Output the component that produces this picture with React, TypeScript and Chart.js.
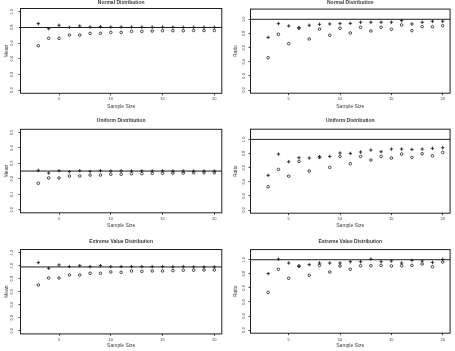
import React, { useEffect, useRef } from "react";
import { Chart, registerables } from "chart.js";

Chart.register(...registerables);

// ---- data ----
const sampleSizes = [3, 4, 5, 6, 7, 8, 9, 10, 11, 12, 13, 14, 15, 16, 17, 18, 19, 20];
const xTickValues = [5, 10, 15, 20];
const meanTicksWide = [0, 0.2, 0.4, 0.6, 0.8, 1.0];
const meanTicksUniform = [0, 0.1, 0.2, 0.3, 0.4, 0.5];
const meanTicksExtreme = [0, 0.2, 0.4, 0.6, 0.8, 1.0, 1.2];
const ratioTicks = [0, 0.2, 0.4, 0.6, 0.8, 1.0];

const normalMeanPlus = [0.847, 0.783, 0.826, 0.8, 0.817, 0.804, 0.808, 0.804, 0.804, 0.803, 0.803, 0.802, 0.802, 0.802, 0.801, 0.801, 0.801, 0.801];
const normalMeanCircle = [0.566, 0.66, 0.66, 0.702, 0.702, 0.723, 0.723, 0.736, 0.736, 0.749, 0.749, 0.753, 0.757, 0.757, 0.757, 0.76, 0.76, 0.76];
const normalRatioPlus = [0.745, 0.939, 0.906, 0.882, 0.915, 0.929, 0.934, 0.939, 0.943, 0.958, 0.958, 0.958, 0.958, 0.981, 0.934, 0.958, 0.972, 0.972];
const normalRatioCircle = [0.458, 0.788, 0.656, 0.873, 0.722, 0.863, 0.774, 0.873, 0.807, 0.887, 0.835, 0.887, 0.858, 0.92, 0.84, 0.896, 0.896, 0.91];

const uniformMeanPlus = [0.254, 0.237, 0.252, 0.246, 0.252, 0.248, 0.252, 0.25, 0.251, 0.25, 0.251, 0.25, 0.251, 0.25, 0.25, 0.25, 0.25, 0.25];
const uniformMeanCircle = [0.171, 0.205, 0.205, 0.218, 0.218, 0.224, 0.224, 0.229, 0.229, 0.233, 0.233, 0.235, 0.235, 0.237, 0.237, 0.239, 0.239, 0.239];
const uniformRatioPlus = [0.491, 0.792, 0.684, 0.741, 0.736, 0.755, 0.759, 0.807, 0.802, 0.821, 0.849, 0.825, 0.863, 0.863, 0.858, 0.863, 0.873, 0.882];
const uniformRatioCircle = [0.33, 0.575, 0.481, 0.689, 0.552, 0.745, 0.604, 0.759, 0.656, 0.759, 0.708, 0.759, 0.736, 0.792, 0.745, 0.797, 0.769, 0.816];

const extremeMeanPlus = [1.046, 0.959, 1.01, 0.985, 1.0, 0.985, 1.0, 0.985, 0.985, 0.985, 0.985, 0.985, 0.985, 0.98, 0.985, 0.98, 0.98, 0.98];
const extremeMeanCircle = [0.704, 0.811, 0.811, 0.857, 0.857, 0.883, 0.883, 0.903, 0.898, 0.918, 0.913, 0.918, 0.918, 0.923, 0.929, 0.929, 0.934, 0.934];
const extremeRatioPlus = [0.803, 1.009, 0.953, 0.906, 0.93, 0.953, 0.953, 0.953, 0.972, 0.972, 1.009, 0.972, 0.981, 0.953, 0.991, 0.981, 0.962, 1.005];
const extremeRatioCircle = [0.535, 0.864, 0.737, 0.911, 0.779, 0.92, 0.826, 0.911, 0.864, 0.915, 0.915, 0.92, 0.911, 0.915, 0.92, 0.939, 0.901, 0.967];

// reference levels drawn as horizontal lines
const normalMeanRef = 0.798;
const uniformMeanRef = 0.25;
const extremeMeanRef = 0.98;
const ratioRef = 1.0;

// ---- layout / style ----
const W = 455;
const H = 351;
const X_MIN = 1.28;
const X_MAX = 20.72;
const INK = "#1e1e1e";
const TEXT = "#3a3a3a";
const FONT = '"Liberation Sans", Arial, Helvetica, sans-serif';

type PanelSpec = {
  title: string;
  yTitle: string;
  plus: number[];
  circle: number[];
  ref: number;
  yMin: number;
  yMax: number;
  yTicks: number[];
  box: [number, number, number, number]; // left, top, right, bottom
  titleY: number;
  tickLabelY: number;
  xTitleY: number;
  yTickLabelX: number;
  yTitleX: number;
};

const LEFT = { l: 20.5, r: 221.8, yTickX: 11.7, yTitleX: 6.7 };
const RIGHT = { l: 250.5, r: 452.8, yTickX: 244.3, yTitleX: 236 };

const panels: PanelSpec[] = [
  {
    title: "Normal Distribution", yTitle: "Mean", plus: normalMeanPlus, circle: normalMeanCircle,
    ref: normalMeanRef, yMin: -0.04, yMax: 1.04, yTicks: meanTicksWide,
    box: [LEFT.l, 8.5, LEFT.r, 93.3], titleY: 2.2, tickLabelY: 99, xTitleY: 107,
    yTickLabelX: LEFT.yTickX, yTitleX: LEFT.yTitleX,
  },
  {
    title: "Normal Distribution", yTitle: "Ratio", plus: normalRatioPlus, circle: normalRatioCircle,
    ref: ratioRef, yMin: -0.044, yMax: 1.144, yTicks: ratioTicks,
    box: [RIGHT.l, 9.1, RIGHT.r, 93.2], titleY: 2.2, tickLabelY: 99, xTitleY: 107,
    yTickLabelX: RIGHT.yTickX, yTitleX: RIGHT.yTitleX,
  },
  {
    title: "Uniform Distribution", yTitle: "Mean", plus: uniformMeanPlus, circle: uniformMeanCircle,
    ref: uniformMeanRef, yMin: -0.02, yMax: 0.52, yTicks: meanTicksUniform,
    box: [LEFT.l, 129.3, LEFT.r, 212.8], titleY: 121, tickLabelY: 219, xTitleY: 226,
    yTickLabelX: LEFT.yTickX, yTitleX: LEFT.yTitleX,
  },
  {
    title: "Uniform Distribution", yTitle: "Ratio", plus: uniformRatioPlus, circle: uniformRatioCircle,
    ref: ratioRef, yMin: -0.044, yMax: 1.144, yTicks: ratioTicks,
    box: [RIGHT.l, 129.2, RIGHT.r, 213.2], titleY: 121, tickLabelY: 219, xTitleY: 226,
    yTickLabelX: RIGHT.yTickX, yTitleX: RIGHT.yTitleX,
  },
  {
    title: "Extreme Value Distribution", yTitle: "Mean", plus: extremeMeanPlus, circle: extremeMeanCircle,
    ref: extremeMeanRef, yMin: -0.048, yMax: 1.248, yTicks: meanTicksExtreme,
    box: [LEFT.l, 249.5, LEFT.r, 333.9], titleY: 242, tickLabelY: 339.6, xTitleY: 345.5,
    yTickLabelX: LEFT.yTickX, yTitleX: LEFT.yTitleX,
  },
  {
    title: "Extreme Value Distribution", yTitle: "Ratio", plus: extremeRatioPlus, circle: extremeRatioCircle,
    ref: ratioRef, yMin: -0.044, yMax: 1.144, yTicks: ratioTicks,
    box: [RIGHT.l, 249.6, RIGHT.r, 333.2], titleY: 242, tickLabelY: 339.6, xTitleY: 345.8,
    yTickLabelX: RIGHT.yTickX, yTitleX: RIGHT.yTitleX,
  },
];

// Frame, titles and tick labels drawn on top of each panel.
const panelDecor = {
  id: "panelDecor",
  afterDraw(chart: any, _args: any, opts: any) {
    const spec: PanelSpec = opts.spec;
    if (!spec) return;
    const { ctx, chartArea: a, scales } = chart;
    const cx = (a.left + a.right) / 2;
    ctx.save();
    ctx.strokeStyle = INK;
    ctx.lineWidth = 1;
    ctx.strokeRect(a.left, a.top, a.right - a.left, a.bottom - a.top);

    ctx.fillStyle = TEXT;
    ctx.textAlign = "center";
    ctx.textBaseline = "middle";

    ctx.font = `bold 5px ${FONT}`;
    ctx.fillText(spec.title, cx, spec.titleY);

    ctx.font = `4px ${FONT}`;
    scales.x.ticks.forEach((t: any) => {
      ctx.fillText(String(t.value), scales.x.getPixelForValue(t.value), spec.tickLabelY);
    });
    scales.y.ticks.forEach((t: any) => {
      const py = scales.y.getPixelForValue(t.value);
      ctx.save();
      ctx.translate(spec.yTickLabelX, py);
      ctx.rotate(-Math.PI / 2);
      ctx.fillText(t.value.toFixed(1), 0, 0);
      ctx.restore();
    });

    ctx.font = `5px ${FONT}`;
    ctx.fillText("Sample Size", cx, spec.xTitleY);
    ctx.save();
    ctx.translate(spec.yTitleX, (a.top + a.bottom) / 2);
    ctx.rotate(-Math.PI / 2);
    ctx.fillText(spec.yTitle, 0, 0);
    ctx.restore();
    ctx.restore();
  },
};

function Panel({ spec }: { spec: PanelSpec }) {
  const ref = useRef<HTMLCanvasElement | null>(null);

  useEffect(() => {
    if (!ref.current) return;
    const [l, t, r, b] = spec.box;
    const chart = new Chart(ref.current, {
      type: "scatter",
      data: {
        datasets: [
          {
            label: "reference",
            data: [
              { x: X_MIN, y: spec.ref },
              { x: X_MAX, y: spec.ref },
            ],
            showLine: true,
            borderColor: INK,
            borderWidth: 1,
            pointRadius: 0,
          },
          {
            label: "plus",
            data: sampleSizes.map((x, i) => ({ x, y: spec.plus[i] })),
            pointStyle: "cross",
            pointRadius: 1.7,
            borderColor: INK,
            borderWidth: 0.9,
          },
          {
            label: "circle",
            data: sampleSizes.map((x, i) => ({ x, y: spec.circle[i] })),
            pointStyle: "circle",
            pointRadius: 1.3,
            borderColor: INK,
            backgroundColor: "rgba(0,0,0,0)",
            borderWidth: 0.8,
          },
        ],
      },
      options: {
        responsive: false,
        animation: false,
        events: [],
        layout: { padding: { left: 0, top: t, right: W - r, bottom: 0 } },
        plugins: {
          legend: { display: false },
          tooltip: { enabled: false },
          title: { display: false },
          panelDecor: { spec },
        } as any,
        scales: {
          x: {
            type: "linear",
            min: X_MIN,
            max: X_MAX,
            afterBuildTicks: (s: any) => {
              s.ticks = xTickValues.map((v) => ({ value: v }));
            },
            afterFit: (s: any) => {
              s.height = H - b;
            },
            ticks: { display: false },
            grid: { display: true, drawOnChartArea: false, drawTicks: true, tickLength: 2, color: INK, lineWidth: 0.8 },
            border: { display: false },
          },
          y: {
            type: "linear",
            min: spec.yMin,
            max: spec.yMax,
            afterBuildTicks: (s: any) => {
              s.ticks = spec.yTicks.map((v) => ({ value: v }));
            },
            afterFit: (s: any) => {
              s.width = l;
            },
            ticks: { display: false },
            grid: { display: true, drawOnChartArea: false, drawTicks: true, tickLength: 2, color: INK, lineWidth: 0.8 },
            border: { display: false },
          },
        },
      },
      plugins: [panelDecor],
    });
    return () => chart.destroy();
  }, [spec]);

  return (
    <canvas
      ref={ref}
      width={W}
      height={H}
      style={{ position: "absolute", left: 0, top: 0, width: W, height: H }}
    />
  );
}

export default function App() {
  return (
    <div style={{ position: "fixed", left: 0, top: 0, width: W, height: H, background: "#fff", overflow: "hidden" }}>
      {panels.map((p, i) => (
        <Panel key={i} spec={p} />
      ))}
    </div>
  );
}
